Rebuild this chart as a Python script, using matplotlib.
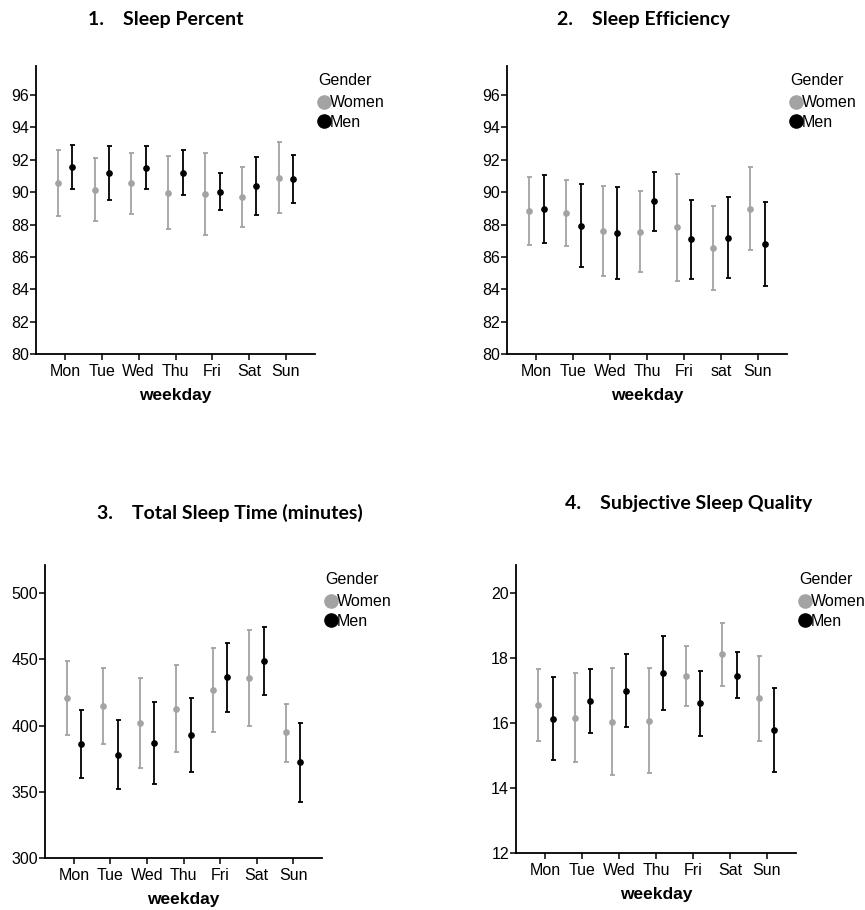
import matplotlib
matplotlib.use('Agg')
import matplotlib.pyplot as plt
from matplotlib.lines import Line2D
import numpy as np

plt.rcParams['font.family'] = ['Liberation Sans', 'DejaVu Sans']

# weekday labels (panel 2 uses lower-case "sat" in the original)
days = ['Mon', 'Tue', 'Wed', 'Thu', 'Fri', 'Sat', 'Sun']
days_eff = ['Mon', 'Tue', 'Wed', 'Thu', 'Fri', 'sat', 'Sun']

# 1. Sleep percent
pct_w_mean = [90.57, 90.16, 90.55, 89.98, 89.89, 89.69, 90.88]
pct_w_lo = [88.56, 88.19, 88.68, 87.71, 87.36, 87.84, 88.70]
pct_w_hi = [92.61, 92.09, 92.42, 92.26, 92.44, 91.54, 93.08]
pct_m_mean = [91.56, 91.21, 91.52, 91.21, 90.02, 90.39, 90.82]
pct_m_lo = [90.20, 89.54, 90.22, 89.81, 88.87, 88.62, 89.36]
pct_m_hi = [92.94, 92.88, 92.84, 92.63, 91.19, 92.18, 92.30]

# 2. Sleep efficiency
eff_w_mean = [88.82, 88.70, 87.63, 87.57, 87.82, 86.56, 88.99]
eff_w_lo = [86.71, 86.66, 84.83, 85.06, 84.50, 83.97, 86.40]
eff_w_hi = [90.94, 90.74, 90.41, 90.10, 91.11, 89.17, 91.58]
eff_m_mean = [88.99, 87.94, 87.49, 89.44, 87.08, 87.18, 86.81]
eff_m_lo = [86.87, 85.39, 84.65, 87.59, 84.65, 84.69, 84.19]
eff_m_hi = [91.09, 90.49, 90.31, 91.27, 89.50, 89.73, 89.42]

# 3. Total sleep time (minutes)
tst_w_mean = [420.8, 415.0, 402.1, 412.7, 426.8, 435.9, 394.9]
tst_w_lo = [392.6, 386.3, 368.2, 379.8, 395.1, 399.6, 372.7]
tst_w_hi = [448.7, 443.9, 436.1, 445.7, 458.8, 472.3, 416.7]
tst_m_mean = [386.3, 378.0, 386.8, 393.1, 436.4, 448.7, 372.2]
tst_m_lo = [360.6, 351.8, 356.1, 365.2, 410.2, 423.0, 342.0]
tst_m_hi = [411.7, 404.2, 417.7, 421.0, 462.8, 474.4, 402.1]

# 4. Subjective sleep quality
ssq_w_mean = [16.56, 16.16, 16.03, 16.07, 17.44, 18.11, 16.76]
ssq_w_lo = [15.44, 14.80, 14.40, 14.47, 16.52, 17.15, 15.44]
ssq_w_hi = [17.67, 17.53, 17.68, 17.69, 18.36, 19.09, 18.07]
ssq_m_mean = [16.13, 16.69, 16.99, 17.53, 16.61, 17.46, 15.77]
ssq_m_lo = [14.86, 15.70, 15.87, 16.39, 15.61, 16.76, 14.48]
ssq_m_hi = [17.42, 17.67, 18.13, 18.68, 17.60, 18.17, 17.08]

WOMEN = '#a3a3a3'
MEN = '#000000'
W, H = 865, 910


def box(left, top, right, bottom):
    return [left / W, (H - bottom) / H, (right - left) / W, (bottom - top) / H]


def draw(ax, labels, women, men, ylim, yticks):
    x = np.arange(len(labels))
    for off, (mean, lo, hi), col in ((-0.2, women, WOMEN), (0.2, men, MEN)):
        mean = np.array(mean)
        err = [mean - np.array(lo), np.array(hi) - mean]
        ax.errorbar(x + off, mean, yerr=err, fmt='o', color=col, ecolor=col,
                    markersize=3.8, elinewidth=1.3, capsize=1.8, capthick=1.3)
    ax.set_xlim(-0.79, 6.79)
    ax.set_ylim(*ylim)
    ax.set_yticks(yticks)
    ax.set_xticks(x)
    ax.set_xticklabels(labels)
    for s in ('top', 'right'):
        ax.spines[s].set_visible(False)
    for s in ('left', 'bottom'):
        ax.spines[s].set_linewidth(1.3)
    ax.tick_params(axis='both', direction='out', length=4, width=1.1,
                   labelsize=11.5, pad=1)
    ax.tick_params(axis='x', pad=3)
    ax.set_xlabel('weekday', fontsize=12.5, fontweight='bold', labelpad=7)
    handles = [Line2D([], [], ls='', marker='o', color=WOMEN, markersize=9.5),
               Line2D([], [], ls='', marker='o', color=MEN, markersize=9.5)]
    leg = ax.legend(handles, ['Women', 'Men'], title='Gender', loc='upper left',
                    bbox_to_anchor=(0.986, 1.0), frameon=False, fontsize=11.5,
                    title_fontsize=11.5, handlelength=0.7, handletextpad=0.0,
                    labelspacing=0.3, borderpad=0.45, borderaxespad=0.0,
                    alignment='left')
    leg._legend_box.sep = 5


fig = plt.figure(figsize=(8.65, 9.10), dpi=100)

ax1 = fig.add_axes(box(36, 66, 315, 354))
draw(ax1, days, (pct_w_mean, pct_w_lo, pct_w_hi), (pct_m_mean, pct_m_lo, pct_m_hi),
     (80, 97.8), np.arange(80, 97, 2))

ax2 = fig.add_axes(box(507, 66, 787, 354))
draw(ax2, days_eff, (eff_w_mean, eff_w_lo, eff_w_hi), (eff_m_mean, eff_m_lo, eff_m_hi),
     (80, 97.8), np.arange(80, 97, 2))

ax3 = fig.add_axes(box(45, 565, 322, 858))
draw(ax3, days, (tst_w_mean, tst_w_lo, tst_w_hi), (tst_m_mean, tst_m_lo, tst_m_hi),
     (300, 521.4), np.arange(300, 501, 50))

ax4 = fig.add_axes(box(516, 565, 796, 853))
draw(ax4, days, (ssq_w_mean, ssq_w_lo, ssq_w_hi), (ssq_m_mean, ssq_m_lo, ssq_m_hi),
     (12, 20.86), np.arange(12, 21, 2))

title_kw = dict(fontsize=14, fontweight='bold', family=['Lato', 'DejaVu Sans'],
                va='center', ha='left')
fig.text(88 / W, 1 - 20 / H, '1.    Sleep Percent', **title_kw)
fig.text(557 / W, 1 - 20 / H, '2.    Sleep Efficiency', **title_kw)
fig.text(97 / W, 1 - 513 / H, '3.    Total Sleep Time (minutes)', **title_kw)
fig.text(565 / W, 1 - 503 / H, '4.    Subjective Sleep Quality', **title_kw)

fig.savefig('out.png', dpi=100)
